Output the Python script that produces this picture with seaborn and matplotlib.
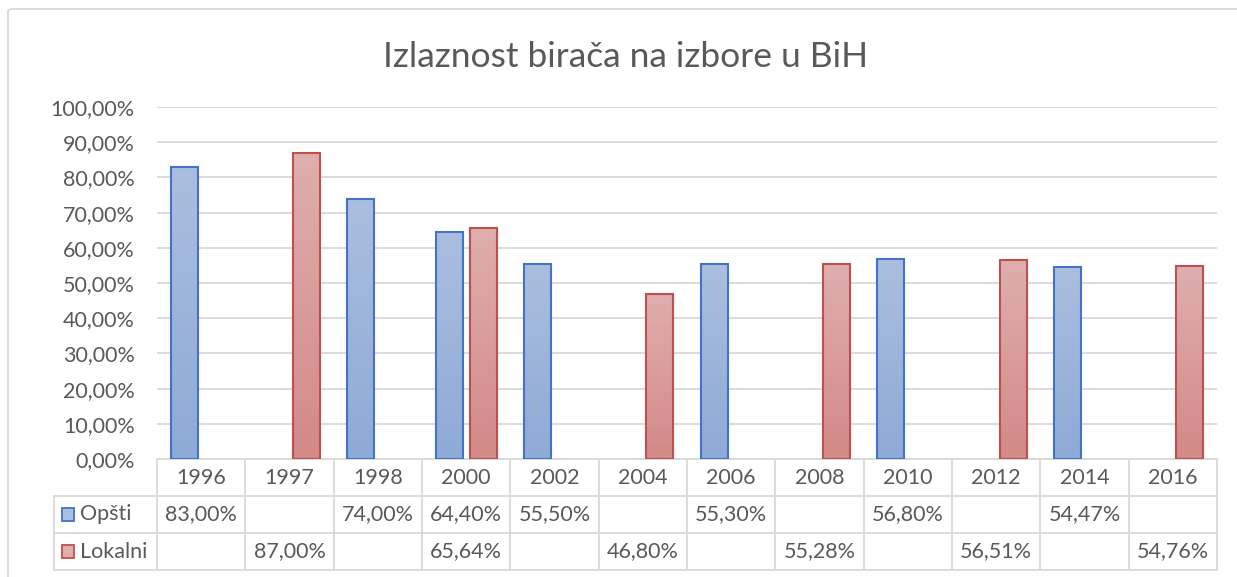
import numpy as np
import pandas as pd
import seaborn as sns
import matplotlib.pyplot as plt
from matplotlib.patches import Rectangle, FancyBboxPatch
from matplotlib.lines import Line2D

years = ["1996", "1997", "1998", "2000", "2002", "2004",
         "2006", "2008", "2010", "2012", "2014", "2016"]
opsti = [83.00, None, 74.00, 64.40, 55.50, None, 55.30, None, 56.80, None, 54.47, None]
lokalni = [None, 87.00, None, 65.64, None, 46.80, None, 55.28, None, 56.51, None, 54.76]
series = ["Opšti", "Lokalni"]

edge = {"Opšti": "#4472c4", "Lokalni": "#c0504d"}
grad = {"Opšti": ("#abbedf", "#8eaad6"), "Lokalni": ("#dfaeae", "#d38988")}
text_col = "#595959"
line_col = "#d9d9d9"
fs = 15.5

rows = []
for name, vals in zip(series, [opsti, lokalni]):
    for y, v in zip(years, vals):
        if v is not None:
            rows.append({"Godina": y, "Izbori": name, "Izlaznost": v})
df = pd.DataFrame(rows)

sns.set_style("white")
plt.rcParams["font.family"] = ["Lato", "DejaVu Sans"]

fig = plt.figure(figsize=(12.37, 5.77), dpi=100)
ax = fig.add_axes([157 / 1237, 1 - 459 / 577, 1060 / 1237, 352 / 577])

sns.barplot(data=df, x="Godina", y="Izlaznost", hue="Izbori", order=years,
            hue_order=series, palette=[edge[s] for s in series],
            width=0.77, gap=0.2, legend=False, ax=ax, zorder=3)

# gradient fill like the original
for bar in ax.patches:
    fc = bar.get_facecolor()
    name = "Opšti" if fc[2] > fc[0] else "Lokalni"
    x0, w, h = bar.get_x(), bar.get_width(), bar.get_height()
    c_top = np.array(plt.matplotlib.colors.to_rgb(grad[name][0]))
    c_bot = np.array(plt.matplotlib.colors.to_rgb(grad[name][1]))
    t = np.linspace(0, 1, 64)[:, None]
    img = (c_top * (1 - t) + c_bot * t)[:, None, :]
    ax.imshow(img, extent=(x0, x0 + w, 0, h), aspect="auto", zorder=3,
              interpolation="bilinear")
    bar.set_facecolor("none")
    bar.set_edgecolor(edge[name])
    bar.set_linewidth(1.5)
    bar.set_zorder(4)

ax.set_xlim(-0.5, len(years) - 0.5)
ax.set_ylim(0, 100)
ax.set_yticks(np.arange(0, 101, 10))
ax.set_yticklabels([f"{v:.2f}%".replace(".", ",") for v in np.arange(0, 101, 10)],
                   fontsize=fs, color=text_col)
ax.set_xticks([])
ax.set_xlabel("")
ax.set_ylabel("")
ax.tick_params(axis="y", length=0, pad=16)
ax.yaxis.grid(True, color=line_col, linewidth=1.3, zorder=0)
sns.despine(ax=ax, left=True, bottom=True)

# data table under the plot
rh = 37 / 352
lab_x = (54 - 157) / 1060
blend = ax.get_xaxis_transform()
n = len(years)
ax.add_line(Line2D([-0.5, n - 0.5], [0, 0], transform=blend, color=line_col,
                   lw=1.3, clip_on=False))
for k in range(1, 4):
    ax.add_line(Line2D([lab_x, 1], [-k * rh, -k * rh], transform=ax.transAxes,
                       color=line_col, lw=1.3, clip_on=False))
ax.add_line(Line2D([lab_x, lab_x], [-rh, -3 * rh], transform=ax.transAxes,
                   color=line_col, lw=1.3, clip_on=False))
for i in range(n + 1):
    ax.add_line(Line2D([i - 0.5, i - 0.5], [0, -3 * rh], transform=blend,
                       color=line_col, lw=1.3, clip_on=False))

for i, y in enumerate(years):
    ax.text(i, -0.5 * rh, y, transform=blend, ha="center", va="center",
            fontsize=fs, color=text_col)
    for r, vals in enumerate([opsti, lokalni]):
        if vals[i] is not None:
            ax.text(i, -(1.5 + r) * rh, f"{vals[i]:.2f}%".replace(".", ","),
                    transform=blend, ha="center", va="center",
                    fontsize=fs, color=text_col)

for r, name in enumerate(series):
    yc = -(1.5 + r) * rh
    ax.add_patch(Rectangle(((62 - 157) / 1060, yc - 0.018), 12 / 1060, 0.036,
                           transform=ax.transAxes, facecolor=grad[name][0],
                           edgecolor=edge[name], lw=1.3, clip_on=False))
    ax.text((80 - 157) / 1060, yc, name, transform=ax.transAxes, ha="left",
            va="center", fontsize=fs, color=text_col)

# chart frame
fig.patches.append(FancyBboxPatch((8 / 1237, -0.05), 1.1, 1 - 9 / 577 + 0.05,
                                  boxstyle="round,pad=0,rounding_size=0.004",
                                  transform=fig.transFigure, facecolor="none",
                                  edgecolor=line_col, lw=1.3))

fig.text(626 / 1237, 1 - 57 / 577, "Izlaznost birača na izbore u BiH",
         ha="center", va="center", fontsize=25.5, color=text_col)

fig.savefig("out.png", dpi=100)
